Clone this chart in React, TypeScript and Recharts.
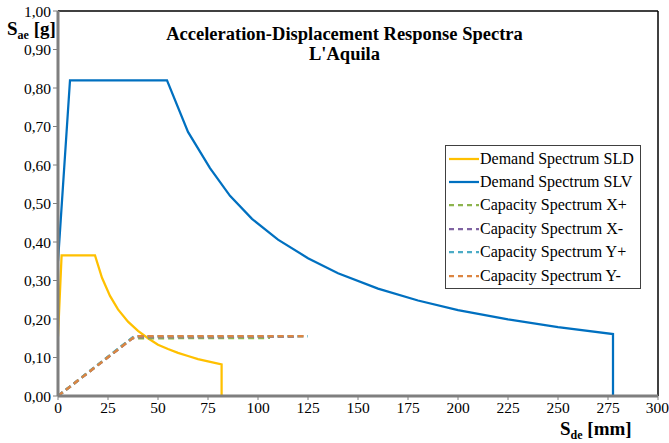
import { Line, LineChart, ReferenceLine, XAxis, YAxis } from "recharts";

const FONT = "'Liberation Serif', 'Times New Roman', serif";

const xTicks = [0, 25, 50, 75, 100, 125, 150, 175, 200, 225, 250, 275, 300];
const yTicks = [0, 0.1, 0.2, 0.3, 0.4, 0.5, 0.6, 0.7, 0.8, 0.9, 1.0];

// Demand spectrum SLD
const sldDisp = [0, 1.8, 18.5, 22, 26, 30, 35, 40, 45, 50, 55, 60, 65, 70, 75, 81.8, 81.8];
const sldAcc = [0.155, 0.365, 0.365, 0.307, 0.26, 0.225, 0.193, 0.169, 0.15, 0.133, 0.122, 0.112, 0.104, 0.096, 0.09, 0.082, 0];

// Demand spectrum SLV
const slvDisp = [0, 6, 54.5, 65, 76, 86, 97, 110, 125, 140, 160, 180, 200, 225, 250, 277.5, 277.5];
const slvAcc = [0.35, 0.82, 0.82, 0.686, 0.592, 0.52, 0.46, 0.406, 0.358, 0.319, 0.279, 0.248, 0.223, 0.199, 0.179, 0.161, 0];

// Capacity spectra
const xPlusDisp = [0, 37, 106];
const xPlusAcc = [0, 0.15, 0.151];
const xMinusDisp = [0, 38, 120];
const xMinusAcc = [0, 0.153, 0.154];
const yPlusDisp = [0, 38, 125];
const yPlusAcc = [0, 0.155, 0.155];
const yMinusDisp = [0, 38.5, 124];
const yMinusAcc = [0, 0.155, 0.155];

const toPts = (xs: number[], ys: number[]) => xs.map((x, i) => ({ x, y: ys[i] }));

const SERIES = [
  { name: "Demand Spectrum SLD", data: toPts(sldDisp, sldAcc), color: "#FFC000", dash: undefined, w: 2.25 },
  { name: "Demand Spectrum SLV", data: toPts(slvDisp, slvAcc), color: "#0070C0", dash: undefined, w: 2.25 },
  { name: "Capacity Spectrum X+", data: toPts(xPlusDisp, xPlusAcc), color: "#8DB44E", dash: "6 4", w: 2.5 },
  { name: "Capacity Spectrum X-", data: toPts(xMinusDisp, xMinusAcc), color: "#7F63A1", dash: "6 4", w: 2.5 },
  { name: "Capacity Spectrum Y+", data: toPts(yPlusDisp, yPlusAcc), color: "#4BACC6", dash: "6 4", w: 2.5 },
  { name: "Capacity Spectrum Y-", data: toPts(yMinusDisp, yMinusAcc), color: "#DC8541", dash: "6 4", w: 2.5 },
];

function LegendBox() {
  return (
    <div style={{ position: "absolute", left: 445, top: 145, width: 196, boxSizing: "border-box", border: "1px solid #404040", background: "#fff", padding: "1px 2px 1px 3px", fontSize: 16, color: "#000", overflow: "hidden" }}>
      {SERIES.map((s) => (
        <div key={s.name} style={{ display: "flex", alignItems: "center", height: 23.4 }}>
          <svg width={30} height={6} style={{ marginRight: 1, flexShrink: 0 }}>
            <line x1={0} y1={3} x2={30} y2={3} stroke={s.color} strokeWidth={2.25} strokeDasharray={s.dash ? "5 4" : undefined} />
          </svg>
          <span style={{ whiteSpace: "nowrap" }}>{s.name}</span>
        </div>
      ))}
    </div>
  );
}

const fmt = (v: number) => v.toFixed(2).replace(".", ",");

const subStyle = { fontSize: 12, verticalAlign: "-4px", lineHeight: 0 };

export default function App() {
  return (
    <div style={{ position: "absolute", left: 0, top: 0, width: 669, height: 443, background: "#fff", fontFamily: FONT }}>
      <LineChart width={669} height={443} margin={{ top: 11, right: 11, left: 0, bottom: 0 }} style={{ fontFamily: FONT }}>
        <XAxis
          type="number"
          dataKey="x"
          domain={[0, 300]}
          ticks={xTicks}
          allowDataOverflow
          height={47}
          axisLine={{ stroke: "#7F7F7F", strokeWidth: 3 }}
          tickLine={{ stroke: "#7F7F7F" }}
          tickSize={4}
          tick={{ fontFamily: FONT, fontSize: 15.5, fill: "#000" }}
        />
        <YAxis
          type="number"
          domain={[0, 1]}
          ticks={yTicks}
          allowDataOverflow
          width={58}
          tickFormatter={fmt}
          axisLine={{ stroke: "#7F7F7F", strokeWidth: 3 }}
          tickLine={{ stroke: "#7F7F7F" }}
          tickSize={5}
          tick={{ fontFamily: FONT, fontSize: 15.5, fill: "#000" }}
        />
        <ReferenceLine y={1} stroke="#000" strokeWidth={1.5} />
        <ReferenceLine x={300} stroke="#000" strokeWidth={1.5} />
        {SERIES.map((s) => (
          <Line
            key={s.name}
            data={s.data}
            dataKey="y"
            name={s.name}
            type="linear"
            dot={false}
            activeDot={false}
            stroke={s.color}
            strokeWidth={s.w}
            strokeDasharray={s.dash}
            isAnimationActive={false}
          />
        ))}
      </LineChart>
      <LegendBox />
      <div style={{ position: "absolute", left: 0, top: 24, width: 689, textAlign: "center", fontWeight: "bold", fontSize: 18.5, lineHeight: "20px" }}>
        Acceleration-Displacement Response Spectra
        <br />
        L'Aquila
      </div>
      <div style={{ position: "absolute", left: 7, top: 20, fontWeight: "bold", fontSize: 19, lineHeight: "18px", whiteSpace: "nowrap" }}>
        S<sub style={subStyle}>ae</sub> [g]
      </div>
      <div style={{ position: "absolute", left: 560, top: 420, fontWeight: "bold", fontSize: 19, lineHeight: "18px", whiteSpace: "nowrap" }}>
        S<sub style={subStyle}>de</sub> [mm]
      </div>
    </div>
  );
}
